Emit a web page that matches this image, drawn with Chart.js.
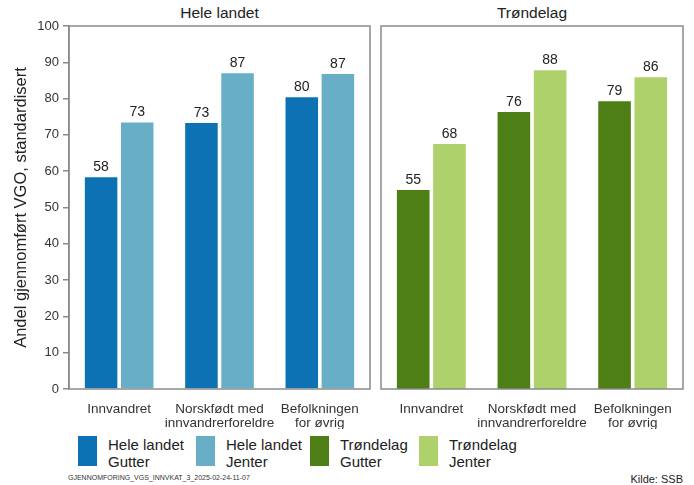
<!DOCTYPE html>
<html><head><meta charset="utf-8">
<script src="https://cdn.jsdelivr.net/npm/chart.js@4"></script>
<style>
body{margin:0;background:#fff;font-family:"Liberation Sans",Arial,sans-serif;color:#222;}
#wrap{position:relative;width:694px;height:485px;overflow:hidden;}
.ftitle{position:absolute;top:4px;font-size:15.5px;text-align:center;color:#222;}
canvas{position:absolute;top:0;}
.leg{position:absolute;top:436px;}
.sw{position:absolute;width:19px;height:30px;}
.lt{position:absolute;font-size:15px;line-height:17px;white-space:nowrap;top:0px;}
#src{position:absolute;left:68px;top:474px;font-size:7px;color:#333;}
#kilde{position:absolute;right:11px;top:473px;font-size:11px;color:#222;}
</style></head><body>
<div id="wrap">
<div class="ftitle" style="left:69px;width:301px;">Hele landet</div>
<div class="ftitle" style="left:381px;width:302px;">Trøndelag</div>
<div id="c1w" style="position:absolute;left:0;top:0;width:374px;height:429px;"><canvas id="c1"></canvas></div>
<div id="c2w" style="position:absolute;left:378px;top:0;width:316px;height:429px;"><canvas id="c2"></canvas></div>
<div id="legend"></div>
<div id="src">GJENNOMFORING_VGS_INNVKAT_3_2025-02-24-11-07</div>
<div id="kilde">Kilde: SSB</div>
</div>
<script>
const categories = [["Innvandret"], ["Norskfødt med", "innvandrerforeldre"], ["Befolkningen", "for øvrig"]];
const heleGutter = [58.3, 73.3, 80.4];
const heleJenter = [73.4, 87.0, 86.8];
const trondGutter = [54.8, 76.3, 79.3];
const trondJenter = [67.5, 87.8, 85.9];
const yTicks = [0, 10, 20, 30, 40, 50, 60, 70, 80, 90, 100];
const panelTitles = ["Hele landet", "Trøndelag"];
const legendItems = [["Hele landet", "Gutter", "#0c72b4"], ["Hele landet", "Jenter", "#67aec6"], ["Trøndelag", "Gutter", "#4d7f16"], ["Trøndelag", "Jenter", "#afd16c"]];
const yTitle = "Andel gjennomført VGO, standardisert";

const FONT = "'Liberation Sans', Arial, sans-serif";
Chart.defaults.font.family = FONT;
Chart.defaults.animation = false;

const frame = {
  id: 'frame',
  afterDraw(chart) {
    const a = chart.chartArea, ctx = chart.ctx;
    ctx.save();
    ctx.strokeStyle = '#8a8a8a';
    ctx.lineWidth = 1.5;
    ctx.strokeRect(a.left, a.top, a.right - a.left, a.bottom - a.top);
    ctx.restore();
  }
};
const labels = {
  id: 'vlabels',
  afterDatasetsDraw(chart) {
    const ctx = chart.ctx;
    ctx.save();
    ctx.font = "14px " + FONT;
    ctx.fillStyle = '#222';
    ctx.textAlign = 'center';
    ctx.textBaseline = 'bottom';
    chart.data.datasets.forEach((ds, di) => {
      chart.getDatasetMeta(di).data.forEach((bar, i) => {
        ctx.fillText(Math.round(ds.data[i]).toString(), bar.x, bar.y - 3);
      });
    });
    ctx.restore();
  }
};

function makeChart(id, d1, d2, c1, c2, showY, pad) {
  return new Chart(document.getElementById(id), {
    type: 'bar',
    data: {
      labels: categories,
      datasets: [
        { data: d1, backgroundColor: c1, categoryPercentage: 0.72, barPercentage: 0.9 },
        { data: d2, backgroundColor: c2, categoryPercentage: 0.72, barPercentage: 0.9 }
      ]
    },
    options: {
      responsive: true, maintainAspectRatio: false,
      layout: { padding: pad },
      plugins: { legend: { display: false }, tooltip: { enabled: false } },
      scales: {
        x: {
          grid: { display: false },
          border: { display: false },
          ticks: { color: '#333', font: { size: 13.5, lineHeight: 1.05 }, padding: 5, maxRotation: 0, autoSkip: false },
          afterFit(s) { s.height = 40; }
        },
        y: {
          display: showY,
          min: 0, max: 100,
          afterBuildTicks(s) { s.ticks = yTicks.map(v => ({ value: v })); },
          grid: { drawOnChartArea: false, drawTicks: true, tickLength: 6, color: '#8a8a8a', lineWidth: 1.5 },
          border: { display: true, color: '#8a8a8a', width: 1.5 },
          ticks: { color: '#333', font: { size: 13 }, padding: 4 },
          title: { display: true, text: yTitle, color: '#222', font: { size: 16.5 }, padding: { top: 12, bottom: 0 } },
          afterFit(s) { s.width = showY ? 69 : 0; }
        }
      }
    },
    plugins: [frame, labels]
  });
}
makeChart('c1', heleGutter, heleJenter, legendItems[0][2], legendItems[1][2], true, { top: 26, left: 0, right: 4, bottom: 0 });
makeChart('c2', trondGutter, trondJenter, legendItems[2][2], legendItems[3][2], false, { top: 26, left: 3, right: 11, bottom: 0 });

const lg = document.getElementById('legend');
const xs = [78, 196, 310, 419];
legendItems.forEach((it, i) => {
  const d = document.createElement('div');
  d.className = 'leg';
  d.style.left = xs[i] + 'px';
  d.innerHTML = '<div class="sw" style="background:' + it[2] + ';left:0;"></div>' +
    '<div class="lt" style="left:30px;">' + it[0] + '<br>' + it[1] + '</div>';
  lg.appendChild(d);
});
</script>
</body></html>
